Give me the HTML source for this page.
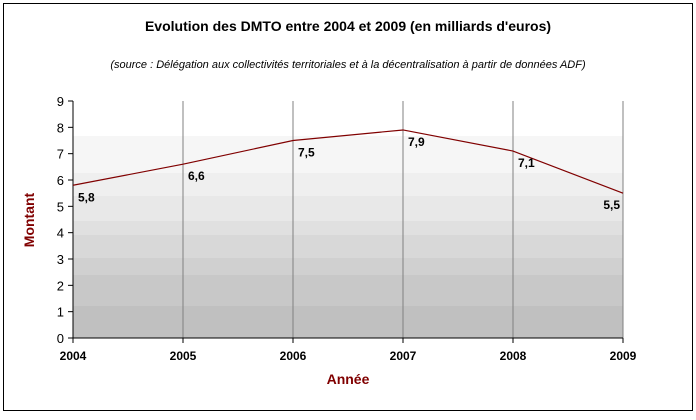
<!DOCTYPE html>
<html><head><meta charset="utf-8"><style>
body{margin:0;background:#fff;width:696px;height:415px;overflow:hidden}
svg text{font-family:"Liberation Sans",Arial,sans-serif}
</style></head><body>
<svg width="696" height="415">
<rect x="3.5" y="3.5" width="689" height="407" fill="#fff" stroke="#000"/>
<text x="348" y="31" text-anchor="middle" font-size="14" font-weight="bold">Evolution des DMTO entre 2004 et 2009 (en milliards d'euros)</text>
<text x="348" y="68" text-anchor="middle" font-size="11" font-style="italic">(source : Délégation aux collectivités territoriales et à la décentralisation à partir de données ADF)</text>
<g id="bands"></g>
<g id="grid"></g>
<g id="axes"></g>
<g id="series"></g>
<text x="348" y="384" text-anchor="middle" font-size="14" font-weight="bold" fill="#800000">Année</text>
<text transform="translate(34,220) rotate(-90)" text-anchor="middle" font-size="14" font-weight="bold" fill="#800000">Montant</text>
</svg>
<script>
const years=["2004","2005","2006","2007","2008","2009"];
const values=[5.8,6.6,7.5,7.9,7.1,5.5];
const labels=["5,8","6,6","7,5","7,9","7,1","5,5"];
const yTicks=[0,1,2,3,4,5,6,7,8,9];
const NS="http://www.w3.org/2000/svg";
const x0=73,x1=623,y0=338,y9=101;
const X=i=>x0+i*(x1-x0)/(years.length-1);
const Y=v=>y0-v*(y0-y9)/9;
function mk(t,a,p){const e=document.createElementNS(NS,t);for(const k in a)e.setAttribute(k,a[k]);p.appendChild(e);return e;}
const bands=document.getElementById('bands');
[[136,173,"#f6f6f6"],[173,196,"#efefef"],[196,221,"#e8e8e8"],[221,235,"#e0e0e0"],[235,258,"#d8d8d8"],[258,275,"#d0d0d0"],[275,306,"#c8c8c8"],[306,338,"#c0c0c0"]].forEach(b=>{
const r=mk('rect',{x:x0,y:b[0],width:x1-x0,height:b[1]-b[0],fill:b[2]},bands);

});
const grid=document.getElementById('grid');
years.forEach((y,i)=>{if(i===0)return;
const l=mk('line',{x1:X(i),x2:X(i),y1:y9,y2:y0,stroke:"#808080"},grid);

});
const ax=document.getElementById('axes');
const ya=mk('line',{x1:x0,x2:x0,y1:y9,y2:y0+1,stroke:"#000"},ax);


const xa=mk('line',{x1:x0,x2:x1,y1:y0,y2:y0,stroke:"#000"},ax);


yTicks.forEach(v=>{
mk('line',{x1:x0-5,x2:x0,y1:Y(v),y2:Y(v),stroke:"#000"},ax);
const t=mk('text',{x:x0-9,y:Y(v)+5,"text-anchor":"end","font-size":"13"},ax);
t.textContent=v;

});
years.forEach((y,i)=>{
mk('line',{x1:X(i),x2:X(i),y1:y0,y2:y0+5,stroke:"#000"},ax);
const t=mk('text',{x:X(i),y:y0+22,"text-anchor":"middle","font-size":"12","font-weight":"bold"},ax);
t.textContent=y;

});
const s=document.getElementById('series');
const pl=mk('polyline',{points:values.map((v,i)=>X(i)+","+Y(v)).join(" "),fill:"none",stroke:"#800000","stroke-width":"1.2"},s);


values.forEach((v,i)=>{
const last=i===values.length-1;
const t=mk('text',{x:last?X(i)-3:X(i)+5,y:Y(v)+16,"text-anchor":last?"end":"start","font-size":"12","font-weight":"bold"},s);
t.textContent=labels[i];

});
</script>
</body></html>
